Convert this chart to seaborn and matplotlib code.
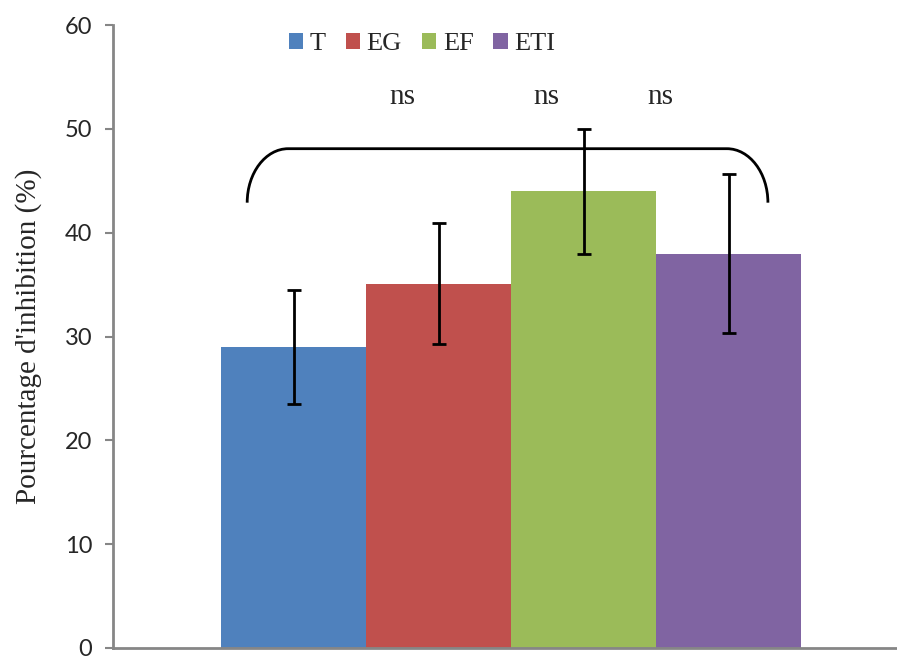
import numpy as np
import pandas as pd
import matplotlib
matplotlib.use("Agg")
import matplotlib.pyplot as plt
import seaborn as sns
from matplotlib.patches import Patch, PathPatch
from matplotlib.path import Path

# data
groups = ["T", "EG", "EF", "ETI"]
values = [29.0, 35.1, 44.0, 38.0]
errors = [5.5, 5.8, 6.0, 7.7]
colors = ["#4F81BD", "#C0504D", "#9BBB59", "#8064A2"]
sig_labels = ["ns", "ns", "ns"]
yticks = [0, 10, 20, 30, 40, 50, 60]

df = pd.DataFrame({"groupe": groups, "inhibition": values})

sns.set_style("white")
serif = "Liberation Serif"
sans = "Lato"

fig = plt.figure(figsize=(8.97, 6.57), dpi=100)
ax = fig.add_axes([0.126, 0.0137, 0.874, 0.948])

sns.barplot(data=df, x="groupe", y="inhibition", hue="groupe",
            palette=colors, width=1.0, errorbar=None, legend=False,
            saturation=1, linewidth=0, ax=ax, zorder=2)
ax.errorbar(np.arange(len(groups)), values, yerr=errors, fmt="none",
            ecolor="black", elinewidth=2.0, capsize=4.7, capthick=2.0,
            zorder=3)

ax.set_ylim(0, 60)
ax.set_xlim(-1.245, 4.16)
ax.set_yticks(yticks)
ax.set_yticklabels([str(t) for t in yticks], fontsize=17, family=sans)
ax.set_xticks([])
ax.set_xlabel("")
ax.set_ylabel("Pourcentage d'inhibition (%)", fontsize=21, family=serif)
ax.yaxis.set_label_coords(-0.09, 0.5)

for side in ["top", "right"]:
    ax.spines[side].set_visible(False)
for side in ["left", "bottom"]:
    ax.spines[side].set_color("#868686")
    ax.spines[side].set_linewidth(2.0)
ax.tick_params(axis="y", which="both", left=True, length=6, width=1.5,
               color="#868686", pad=9)

# curly bracket over the groups
x0, x1 = -0.32, 3.27
yb, yt = 42.9, 48.1
rx, ry = 0.283, 5.2
k = 0.5523
verts = [(x0, yb),
         (x0, yb + ry * k), (x0 + rx * (1 - k), yt), (x0 + rx, yt),
         (x1 - rx, yt),
         (x1 - rx * (1 - k), yt), (x1, yb + ry * k), (x1, yb)]
codes = [Path.MOVETO, Path.CURVE4, Path.CURVE4, Path.CURVE4,
         Path.LINETO, Path.CURVE4, Path.CURVE4, Path.CURVE4]
ax.add_patch(PathPatch(Path(verts, codes), facecolor="none",
                       edgecolor="black", linewidth=2.0, zorder=4))

for xs, lab in zip([0.75, 1.74, 2.53], sig_labels):
    ax.text(xs, 53.1, lab, ha="center", va="center", fontsize=21,
            family=serif)

handles = [Patch(facecolor=c, edgecolor="none", label=g)
           for g, c in zip(groups, colors)]
fig.legend(handles=handles, loc="center", bbox_to_anchor=(0.4705, 0.933),
           ncol=4, frameon=False, handlelength=0.55, handleheight=0.55,
           handletextpad=0.25, columnspacing=0.75,
           prop={"family": serif, "size": 19})

fig.savefig("out.png", dpi=100)
